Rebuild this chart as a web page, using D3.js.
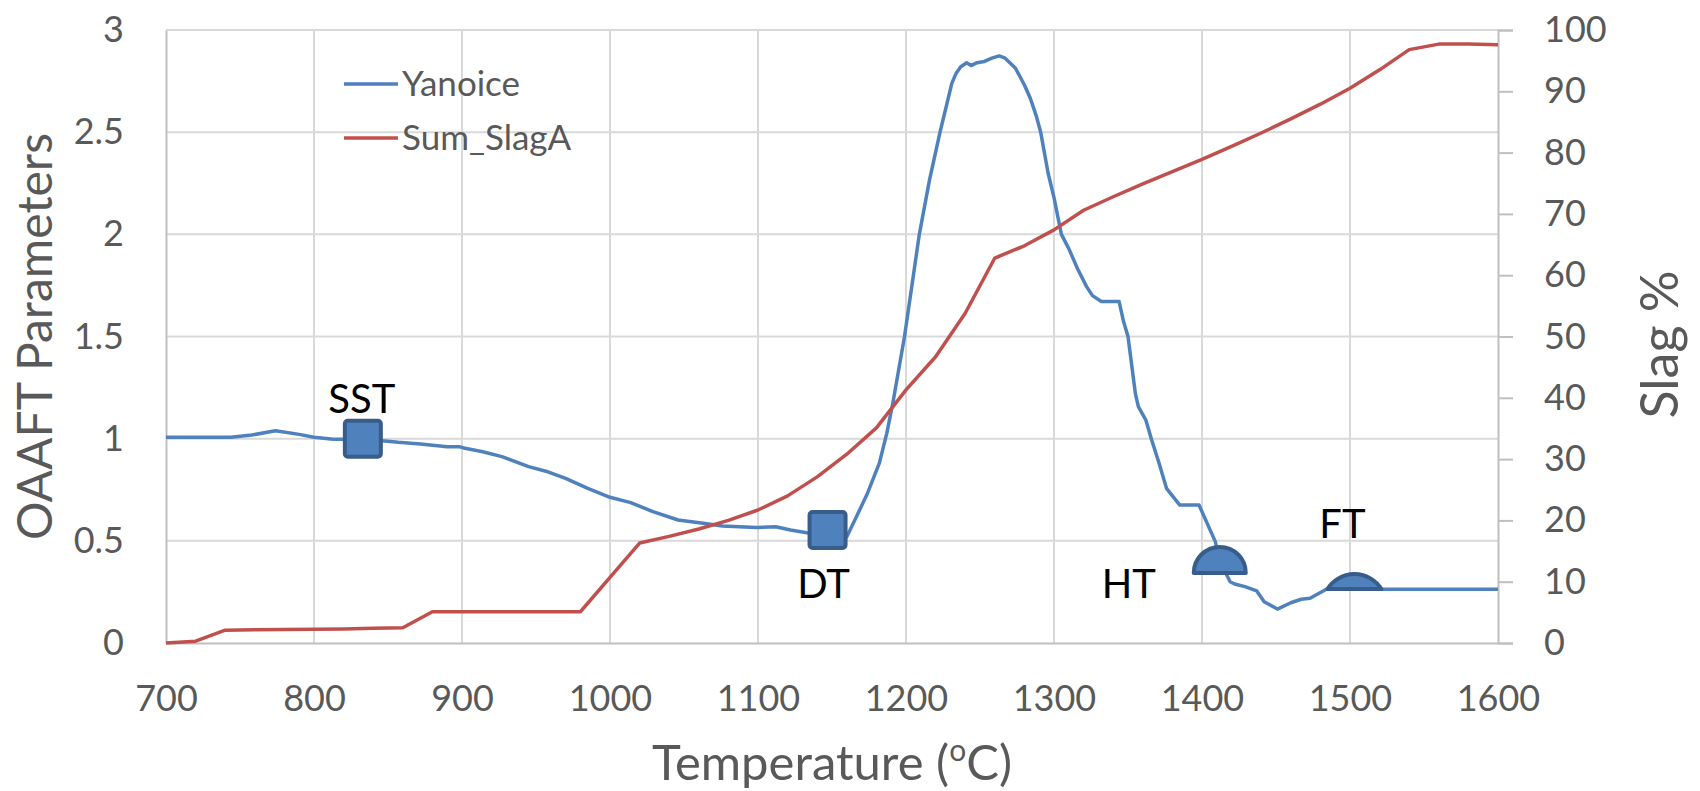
<!DOCTYPE html>
<html>
<head>
<meta charset="utf-8">
<script src="https://cdn.jsdelivr.net/npm/d3@7"></script>
<style>
  body { margin: 0; background: #fff; }
  text { font-family: Lato, "Open Sans", sans-serif; }
</style>
</head>
<body>
<div id="chart"></div>
<script>
// Yanoice curve (OAAFT parameter, left axis)
var yanTemps = [700, 744, 758, 774, 790, 800, 813, 822, 833, 846, 857, 872, 890, 898, 902, 914, 927, 945, 958, 970,
  985, 1000, 1014, 1029, 1046, 1063, 1076, 1099, 1112, 1122, 1133, 1147, 1160, 1166, 1174, 1182, 1187, 1191, 1199, 1204,
  1209, 1216, 1223, 1227, 1231, 1234, 1237, 1241, 1244, 1248, 1253, 1258, 1263, 1267, 1274, 1280, 1284, 1288, 1291, 1296,
  1300, 1305, 1310, 1316, 1322, 1326, 1332, 1344, 1347, 1350, 1355, 1357, 1362, 1366, 1371, 1376, 1385, 1398, 1409, 1412,
  1419, 1422, 1429, 1437, 1442, 1451, 1460, 1467, 1473, 1484, 1503, 1600];
var yanValues = [1.007, 1.007, 1.018, 1.039, 1.021, 1.007, 0.997, 0.997, 1.0, 0.99, 0.982, 0.974, 0.961, 0.961, 0.953, 0.936, 0.912, 0.863, 0.838, 0.806,
  0.757, 0.713, 0.687, 0.643, 0.602, 0.586, 0.573, 0.565, 0.569, 0.553, 0.54, 0.53, 0.52, 0.61, 0.733, 0.88, 1.026, 1.17, 1.5, 1.75,
  2.0, 2.27, 2.5, 2.62, 2.74, 2.79, 2.82, 2.84, 2.826, 2.84, 2.846, 2.862, 2.873, 2.862, 2.813, 2.731, 2.666, 2.58, 2.5, 2.3,
  2.18, 2.0, 1.93, 1.83, 1.744, 1.7, 1.671, 1.671, 1.573, 1.5, 1.22, 1.157, 1.092, 0.994, 0.88, 0.757, 0.675, 0.675, 0.496, 0.4,
  0.3, 0.289, 0.276, 0.255, 0.202, 0.166, 0.197, 0.214, 0.219, 0.263, 0.263, 0.263];

// Sum_SlagA curve (slag %, right axis)
var slagTemps = [700, 720, 740, 760, 780, 800, 820, 840, 860, 880, 900, 920, 940, 960, 980, 1000, 1020, 1040, 1060, 1080,
  1100, 1120, 1140, 1160, 1180, 1200, 1220, 1240, 1260, 1280, 1300, 1320, 1340, 1360, 1380, 1400, 1420, 1440, 1460, 1480,
  1500, 1520, 1540, 1560, 1580, 1600];
var slagValues = [0, 0.3, 2.1, 2.15, 2.2, 2.25, 2.3, 2.4, 2.5, 5.1, 5.1, 5.1, 5.1, 5.1, 5.1, 10.7, 16.3, 17.4, 18.6, 20.0,
  21.7, 24.0, 27.1, 30.8, 35.1, 41.3, 46.7, 53.8, 62.8, 64.8, 67.4, 70.6, 72.8, 74.9, 76.9, 78.9, 81.0, 83.2, 85.5, 87.9,
  90.5, 93.5, 96.8, 97.7, 97.7, 97.6];

// characteristic temperature markers
var markerNames = ["SST", "DT", "HT", "FT"];
var markerTemps = [833, 1147, 1412, 1503];
var markerValues = [1.0, 0.553, 0.343, 0.264];
var markerShapes = ["square", "square", "half", "segment"];

var xTicks = [700, 800, 900, 1000, 1100, 1200, 1300, 1400, 1500, 1600];
var yTicks = [0, 0.5, 1, 1.5, 2, 2.5, 3];
var y2Ticks = [0, 10, 20, 30, 40, 50, 60, 70, 80, 90, 100];

var seriesNames = ["Yanoice", "Sum_SlagA"];
var seriesColors = ["#4F81BD", "#C0504D"];

var svgWidth = 1700;
var svgHeight = 791;
var margin = { top: 30, right: 202, bottom: 148, left: 166 };
var chartWidth = svgWidth - margin.left - margin.right;
var chartHeight = svgHeight - margin.top - margin.bottom;

var svg = d3.select("#chart")
  .append("svg")
  .attr("width", svgWidth)
  .attr("height", svgHeight);

var chartGroup = svg.append("g")
  .attr("transform", `translate(${margin.left}, ${margin.top})`);

var xScale = d3.scaleLinear().domain([700, 1600]).range([0, chartWidth]);
var yScale = d3.scaleLinear().domain([0, 3]).range([chartHeight, 0]);
var y2Scale = d3.scaleLinear().domain([0, 100]).range([chartHeight, 0]);

var textGrey = "#595959";
var tickFont = 36;

// gridlines
chartGroup.append("g")
  .selectAll("line")
  .data(yTicks.slice(1))
  .enter()
  .append("line")
  .attr("x1", 0).attr("x2", chartWidth)
  .attr("y1", d => yScale(d)).attr("y2", d => yScale(d))
  .attr("stroke", "#D9D9D9").attr("stroke-width", 2);

chartGroup.append("g")
  .selectAll("line")
  .data(xTicks.slice(1, -1))
  .enter()
  .append("line")
  .attr("y1", 0).attr("y2", chartHeight)
  .attr("x1", d => xScale(d)).attr("x2", d => xScale(d))
  .attr("stroke", "#D9D9D9").attr("stroke-width", 2);

// bottom axis
var bottomAxis = d3.axisBottom(xScale).tickValues(xTicks).tickSize(0).tickPadding(42)
  .tickFormat(d3.format("d"));
var xAxisG = chartGroup.append("g")
  .attr("transform", `translate(0, ${chartHeight})`)
  .call(bottomAxis);
xAxisG.select(".domain").attr("stroke", "#BFBFBF").attr("stroke-width", 2);
xAxisG.selectAll("text").attr("font-size", tickFont).attr("fill", textGrey).attr("font-family", "Lato");

// left axis
var leftAxis = d3.axisLeft(yScale).tickValues(yTicks).tickSize(0).tickPadding(42)
  .tickFormat(d3.format("~g"));
var yAxisG = chartGroup.append("g").call(leftAxis);
yAxisG.select(".domain").attr("stroke", "#BFBFBF").attr("stroke-width", 2);
yAxisG.selectAll("text").attr("font-size", tickFont).attr("fill", textGrey).attr("font-family", "Lato");

// right axis
var rightAxis = d3.axisRight(y2Scale).tickValues(y2Ticks).tickSize(15).tickPadding(31);
var y2AxisG = chartGroup.append("g")
  .attr("transform", `translate(${chartWidth}, 0)`)
  .call(rightAxis);
y2AxisG.select(".domain").attr("stroke", "#BFBFBF").attr("stroke-width", 2);
y2AxisG.selectAll(".tick line").attr("stroke", "#BFBFBF").attr("stroke-width", 2);
y2AxisG.selectAll("text").attr("font-size", tickFont).attr("fill", textGrey).attr("font-family", "Lato");

// axis titles
var xTitle = chartGroup.append("text")
  .attr("x", chartWidth / 2)
  .attr("y", 780 - margin.top)
  .attr("text-anchor", "middle")
  .attr("font-size", 49)
  .attr("fill", textGrey);
xTitle.append("tspan").text("Temperature (");
xTitle.append("tspan").attr("font-size", 30).attr("dy", -19).text("o");
xTitle.append("tspan").attr("dy", 19).text("C)");

chartGroup.append("text")
  .attr("transform", `translate(${52 - margin.left}, ${chartHeight / 2}) rotate(-90)`)
  .attr("text-anchor", "middle")
  .attr("font-size", 48)
  .attr("fill", textGrey)
  .text("OAAFT Parameters");

chartGroup.append("text")
  .attr("transform", `translate(${1678 - margin.left}, ${chartHeight / 2 + 8}) rotate(-90)`)
  .attr("text-anchor", "middle")
  .attr("font-size", 52)
  .attr("fill", textGrey)
  .text("Slag %");

// lines
var yanLine = d3.line()
  .x((d, i) => xScale(yanTemps[i]))
  .y(d => yScale(d));
var slagLine = d3.line()
  .x((d, i) => xScale(slagTemps[i]))
  .y(d => y2Scale(d));

chartGroup.append("path")
  .datum(yanValues)
  .attr("d", yanLine)
  .attr("fill", "none")
  .attr("stroke", seriesColors[0])
  .attr("stroke-width", 3.5)
  .attr("stroke-linejoin", "round");

chartGroup.append("path")
  .datum(slagValues)
  .attr("d", slagLine)
  .attr("fill", "none")
  .attr("stroke", seriesColors[1])
  .attr("stroke-width", 3.5)
  .attr("stroke-linejoin", "round");

// markers
var markerGroup = chartGroup.append("g");
markerNames.forEach(function (name, i) {
  var mx = xScale(markerTemps[i]);
  var my = yScale(markerValues[i]);
  var g = markerGroup.append("g").attr("transform", `translate(${mx}, ${my})`);
  var shape = markerShapes[i];
  if (shape == "square") {
    g.append("rect")
      .attr("x", -18).attr("y", -18).attr("width", 36).attr("height", 36)
      .attr("rx", 3)
      .attr("fill", "#4F81BD").attr("stroke", "#385D8A").attr("stroke-width", 4);
  } else if (shape == "half") {
    g.append("path")
      .attr("d", "M-26,0 A26,26 0 0 1 26,0 Z")
      .attr("fill", "#4F81BD").attr("stroke", "#385D8A").attr("stroke-width", 4)
      .attr("stroke-linejoin", "round");
  } else {
    g.append("path")
      .attr("d", "M-27,0 A31.8,31.8 0 0 1 27,0 Z")
      .attr("fill", "#4F81BD").attr("stroke", "#385D8A").attr("stroke-width", 4)
      .attr("stroke-linejoin", "round");
  }
});

// marker labels
var labelOffsets = { SST: [-1, -26], DT: [-4, 68], HT: [-91, 25], FT: [-12, -51] };
markerNames.forEach(function (name, i) {
  chartGroup.append("text")
    .attr("x", xScale(markerTemps[i]) + labelOffsets[name][0])
    .attr("y", yScale(markerValues[i]) + labelOffsets[name][1])
    .attr("text-anchor", "middle")
    .attr("font-size", 40)
    .attr("fill", "#000")
    .text(name);
});

// legend
var legend = svg.append("g");
seriesNames.forEach(function (name, i) {
  var ly = 84 + i * 54;
  legend.append("line")
    .attr("x1", 344).attr("x2", 398)
    .attr("y1", ly).attr("y2", ly)
    .attr("stroke", seriesColors[i]).attr("stroke-width", 3.5);
  legend.append("text")
    .attr("x", 402).attr("y", ly)
    .attr("dy", "0.35em")
    .attr("font-size", 35)
    .attr("fill", textGrey)
    .text(name);
});
</script>
</body>
</html>
